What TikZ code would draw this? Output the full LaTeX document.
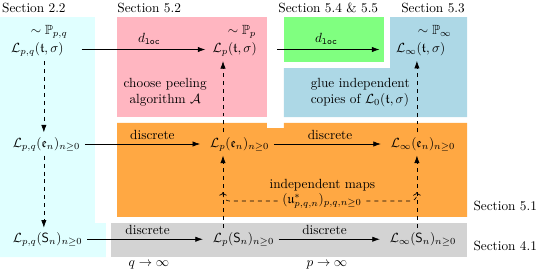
\documentclass[tikz,border=0pt]{standalone}
\usepackage{amsmath}
\usepackage{amssymb}
\usetikzlibrary{arrows.meta}
\definecolor{cyanl}{HTML}{E0FFFF}
\definecolor{pinkl}{HTML}{FFB6C1}
\definecolor{greenl}{HTML}{80FF80}
\definecolor{bluel}{HTML}{ADD8E6}
\definecolor{orangel}{HTML}{FFA843}
\definecolor{greyl}{HTML}{D3D3D3}
\tikzset{
  vec/.style={-{Latex[length=2mm,width=1.4mm]},line width=0.5pt,shorten >=4pt},
  dvec/.style={-{Latex[length=2mm,width=1.4mm]},dashed,line width=0.5pt},
  mapd/.style={->,dashed,line width=0.5pt,rounded corners=5pt},
  sec/.style={anchor=base west,inner sep=0pt},
}

\begin{document}
\begin{tikzpicture}
  \useasboundingbox (0,0) rectangle (14.26,7.17);
  % --- coloured fields ---
  \fill[cyanl] (0,0.37)--(2.80,0.37)--(2.80,1.27)--(2.51,1.27)--(2.51,6.72)--(0,6.72)--cycle;
  \fill[pinkl] (3.10,4.07) rectangle (7.06,6.72);
  \fill[greenl] (7.51,5.53) rectangle (10.16,6.72);
  \fill[bluel] (10.32,6.72)--(12.36,6.72)--(12.36,4.07)--(7.51,4.07)--(7.51,5.37)--(10.32,5.37)--cycle;
  \fill[orangel] (3.10,1.43)--(3.10,3.92)--(7.06,3.92)--(7.06,3.78)--(7.51,3.78)--(7.51,3.92)--(12.36,3.92)--(12.36,1.43)--cycle;
  \fill[greyl] (2.94,0.37) rectangle (12.36,1.27);
  % --- sections ---
  \node[sec] (s22) at (0.05,6.83) {Section 2.2};
  \node[sec] (s52) at (3.10,6.83) {Section 5.2};
  \node[sec] (s545) at (7.36,6.83) {Section 5.4 \& 5.5};
  \node[sec] (s53) at (10.61,6.83) {Section 5.3};
  \node[sec] (s51) at (12.52,1.59) {Section 5.1};
  \node[sec] (s41) at (12.52,0.53) {Section 4.1};
  % --- laws ---
  \node (pqt) at (0.99,5.86) {$\mathcal{L}_{p,q}(\mathfrak{t},\sigma)$};
  \node (pqtlaw) at (1.30,6.34) {$\sim\mathbb{P}_{p,q}$};
  \node (pt) at (6.21,5.86) {$\mathcal{L}_{p}(\mathfrak{t},\sigma)$};
  \node (ptlaw) at (6.40,6.34) {$\sim\mathbb{P}_{p}$};
  \node (it) at (11.13,5.86) {$\mathcal{L}_{\infty}(\mathfrak{t},\sigma)$};
  \node (itlaw) at (11.50,6.34) {$\sim\mathbb{P}_{\infty}$};
  \node (pqe) at (1.23,3.36) {$\mathcal{L}_{p,q}(\mathfrak{e}_n)_{n\geq 0}$};
  \node (pe) at (6.34,3.36) {$\mathcal{L}_{p}(\mathfrak{e}_n)_{n\geq 0}$};
  \node (ie) at (11.19,3.36) {$\mathcal{L}_{\infty}(\mathfrak{e}_n)_{n\geq 0}$};
  \node (pqs) at (1.26,0.84) {$\mathcal{L}_{p,q}(\mathsf{S}_n)_{n\geq 0}$};
  \node (ps) at (6.44,0.84) {$\mathcal{L}_{p}(\mathsf{S}_n)_{n\geq 0}$};
  \node (is) at (11.19,0.84) {$\mathcal{L}_{\infty}(\mathsf{S}_n)_{n\geq 0}$};
  % --- texts in the fields ---
  \node[align=center] (peel) at (4.37,4.72) {choose peeling\\algorithm $\mathcal{A}$};
  \node[align=left] (glue) at (9.53,4.72) {glue independent\\copies of $\mathcal{L}_0(\mathfrak{t},\sigma)$};
  \node (maps) at (8.53,2.28) {independent maps};
  \node (umaps) at (8.52,1.85) {$(\mathfrak{u}^*_{p,q,n})_{p,q,n\geq 0}$};
  \node (qlim) at (3.94,0.16) {$q\to\infty$};
  \node (plim) at (8.65,0.16) {$p\to\infty$};
  \coordinate (c1) at (1.16,0);
  \coordinate (c2) at (5.90,0);
  \coordinate (c3) at (11.03,0);
  \coordinate (jl) at (5.90,2.09);
  \coordinate (jr) at (11.03,2.09);
  % --- horizontal arrows ---
  \draw[vec,shorten <=10pt,shorten >=2pt] (pqt) -- node[above,pos=0.58] {$d_{\mathtt{loc}}$} (pt);
  \draw[vec,shorten <=12pt,shorten >=9pt] (pt) -- node[above] {$d_{\mathtt{loc}}$} (it);
  \draw[vec] (pqe) -- node[above,pos=0.56] {discrete} (pe);
  \draw[vec] (pe) -- node[above] {discrete} (ie);
  \draw[vec] (pqs) -- node[above] {discrete} (ps);
  \draw[vec] (ps) -- node[above,pos=0.43] {discrete} (is);
  % --- vertical dashed arrows ---
  \draw[dvec] (pqt.south -| c1) -- (pqe.north -| c1);
  \draw[dvec] (pqe.south -| c1) -- (pqs.north -| c1);
  \draw[dvec] (pe.north -| c2) -- (pt.south -| c2);
  \draw[dvec] (ps.north -| c2) -- (pe.south -| c2);
  \draw[dvec] (ie.north -| c3) -- (it.south -| c3);
  \draw[dvec] (is.north -| c3) -- (ie.south -| c3);
  \draw[mapd] (umaps.west) -| (jl);
  \draw[mapd] (umaps.east) -| (jr);
\end{tikzpicture}
\end{document}
